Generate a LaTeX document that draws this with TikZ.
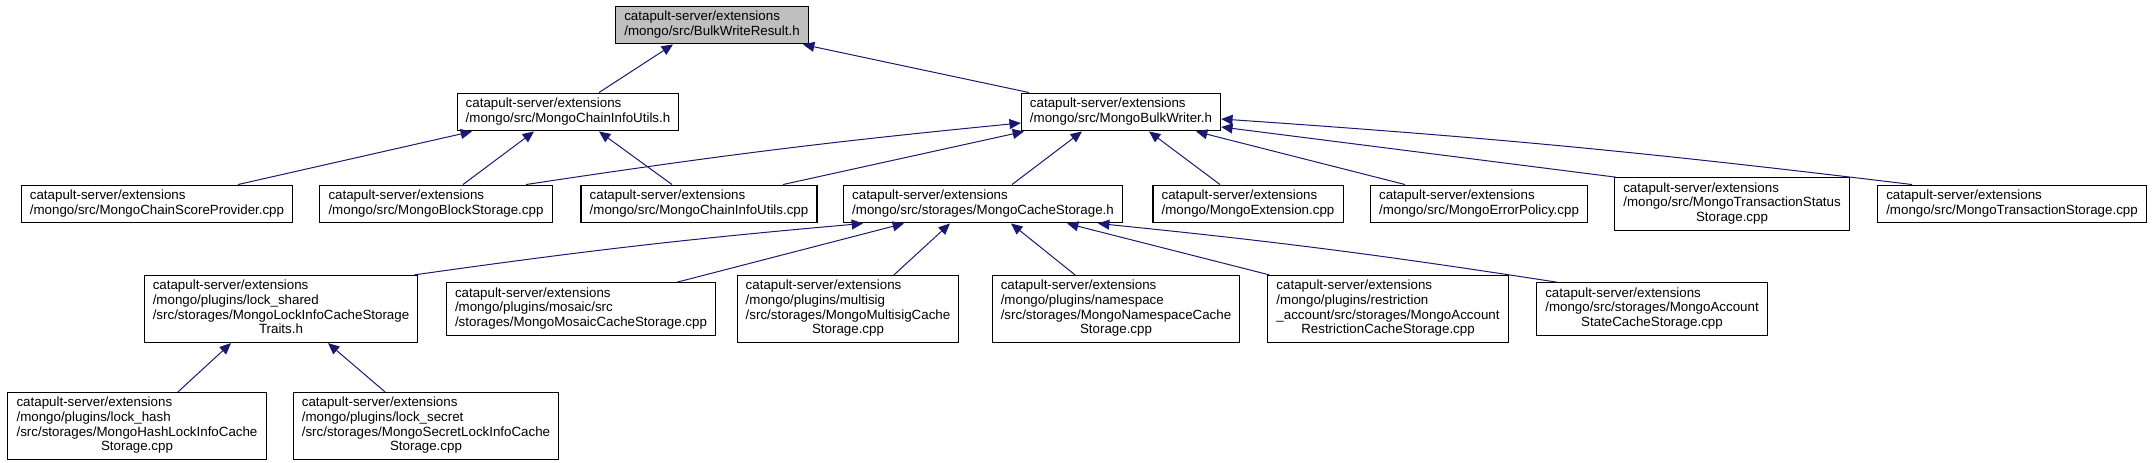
\documentclass[tikz,border=0pt]{standalone}
\usepackage{fontspec}
\setmainfont{Liberation Sans}
\usetikzlibrary{arrows.meta,calc}
\definecolor{inclblue}{RGB}{25,25,112}
\definecolor{rootgray}{RGB}{191,191,191}
\newcommand{\fname}[1]{\begin{tabular}{@{}l@{}}#1\end{tabular}}
\newcommand{\lastln}[1]{\multicolumn{1}{@{}c@{}}{#1}}

\begin{document}
\begin{tikzpicture}[
  x=0.75pt, y=-0.75pt,
  filenode/.style={draw, fill=white, line width=0.8pt, inner xsep=6.5pt, inner ysep=3.2pt, font=\fontsize{10}{11}\selectfont},
  incl/.style={-{Triangle[length=8.5pt,width=7.5pt]}, color=inclblue, line width=0.75pt}
]
\useasboundingbox (0,0) rectangle (2154,463);
\node[filenode, fill=rootgray] (root) at (712,25) {\fname{catapult-server/extensions\\/mongo/src/BulkWriteResult.h}};
\node[filenode] (chainh) at (568,112) {\fname{catapult-server/extensions\\/mongo/src/MongoChainInfoUtils.h}};
\node[filenode] (bulkh) at (1121,112) {\fname{catapult-server/extensions\\/mongo/src/MongoBulkWriter.h}};
\node[filenode] (score) at (157,204) {\fname{catapult-server/extensions\\/mongo/src/MongoChainScoreProvider.cpp}};
\node[filenode] (block) at (436,204) {\fname{catapult-server/extensions\\/mongo/src/MongoBlockStorage.cpp}};
\node[filenode] (chaincpp) at (699,204) {\fname{catapult-server/extensions\\/mongo/src/MongoChainInfoUtils.cpp}};
\node[filenode] (cacheh) at (983,204) {\fname{catapult-server/extensions\\/mongo/src/storages/MongoCacheStorage.h}};
\node[filenode] (ext) at (1248,204) {\fname{catapult-server/extensions\\/mongo/MongoExtension.cpp}};
\node[filenode] (errpol) at (1479,204) {\fname{catapult-server/extensions\\/mongo/src/MongoErrorPolicy.cpp}};
\node[filenode] (txstatus) at (1732,204) {\fname{catapult-server/extensions\\/mongo/src/MongoTransactionStatus\\\lastln{Storage.cpp}}};
\node[filenode] (txstore) at (2012,204) {\fname{catapult-server/extensions\\/mongo/src/MongoTransactionStorage.cpp}};
\node[filenode] (traits) at (281,309) {\fname{catapult-server/extensions\\/mongo/plugins/lock\_shared\\/src/storages/MongoLockInfoCacheStorage\\\lastln{Traits.h}}};
\node[filenode] (mosaic) at (581,309) {\fname{catapult-server/extensions\\/mongo/plugins/mosaic/src\\/storages/MongoMosaicCacheStorage.cpp}};
\node[filenode] (multisig) at (848,309) {\fname{catapult-server/extensions\\/mongo/plugins/multisig\\/src/storages/MongoMultisigCache\\\lastln{Storage.cpp}}};
\node[filenode] (namespace) at (1116,309) {\fname{catapult-server/extensions\\/mongo/plugins/namespace\\/src/storages/MongoNamespaceCache\\\lastln{Storage.cpp}}};
\node[filenode] (restrict) at (1388,309) {\fname{catapult-server/extensions\\/mongo/plugins/restriction\\\_account/src/storages/MongoAccount\\\lastln{RestrictionCacheStorage.cpp}}};
\node[filenode] (acctstate) at (1652,309) {\fname{catapult-server/extensions\\/mongo/src/storages/MongoAccount\\\lastln{StateCacheStorage.cpp}}};
\node[filenode] (hashlock) at (137,426) {\fname{catapult-server/extensions\\/mongo/plugins/lock\_hash\\/src/storages/MongoHashLockInfoCache\\\lastln{Storage.cpp}}};
\node[filenode] (secretlock) at (426,426) {\fname{catapult-server/extensions\\/mongo/plugins/lock\_secret\\/src/storages/MongoSecretLockInfoCache\\\lastln{Storage.cpp}}};
\draw[incl] ($(chainh.north)+(31,0)$) -- ($(root.south)+(-39,0)$);
\draw[incl] ($(bulkh.north)+(-92,0)$) -- ($(root.south)+(91,0)$);
\draw[incl] ($(score.north)+(81,0)$) -- ($(chainh.south)+(-96,0)$);
\draw[incl] ($(block.north)+(27,0)$) -- ($(chainh.south)+(-34,0)$);
\draw[incl] ($(chaincpp.north)+(-27,0)$) -- ($(chainh.south)+(31,0)$);
\draw[incl] ($(block.north)+(90,0)$) to[bend left=1.5] ($(bulkh.west)+(0,11)$);
\draw[incl] ($(chaincpp.north)+(84,0)$) -- ($(bulkh.south)+(-97,0)$);
\draw[incl] ($(cacheh.north)+(29,0)$) -- ($(bulkh.south)+(-39,0)$);
\draw[incl] ($(ext.north)+(-28,0)$) -- ($(bulkh.south)+(28,0)$);
\draw[incl] ($(errpol.north)+(-74,0)$) -- ($(bulkh.south)+(75,0)$);
\draw[incl] ($(txstatus.north west)+(2,0)$) -- ($(bulkh.east)+(0,15)$);
\draw[incl] ($(txstore.north)+(-100,0)$) to[bend right=1.5] ($(bulkh.east)+(0,7)$);
\draw[incl] ($(traits.north east)+(-4,0)$) to[bend left=1.5] ($(cacheh.south)+(-120,0)$);
\draw[incl] ($(mosaic.north)+(96,0)$) -- ($(cacheh.south)+(-79,0)$);
\draw[incl] ($(multisig.north)+(46,0)$) -- ($(cacheh.south)+(-33,0)$);
\draw[incl] ($(namespace.north)+(-41,0)$) -- ($(cacheh.south)+(28,0)$);
\draw[incl] ($(restrict.north west)+(2,0)$) -- ($(cacheh.south)+(84,0)$);
\draw[incl] ($(acctstate.north)+(-95,0)$) to[bend right=1.5] ($(cacheh.south)+(115,0)$);
\draw[incl] ($(hashlock.north)+(41,0)$) -- ($(traits.south)+(-50,0)$);
\draw[incl] ($(secretlock.north)+(-41,0)$) -- ($(traits.south)+(47,0)$);
\end{tikzpicture}
\end{document}
